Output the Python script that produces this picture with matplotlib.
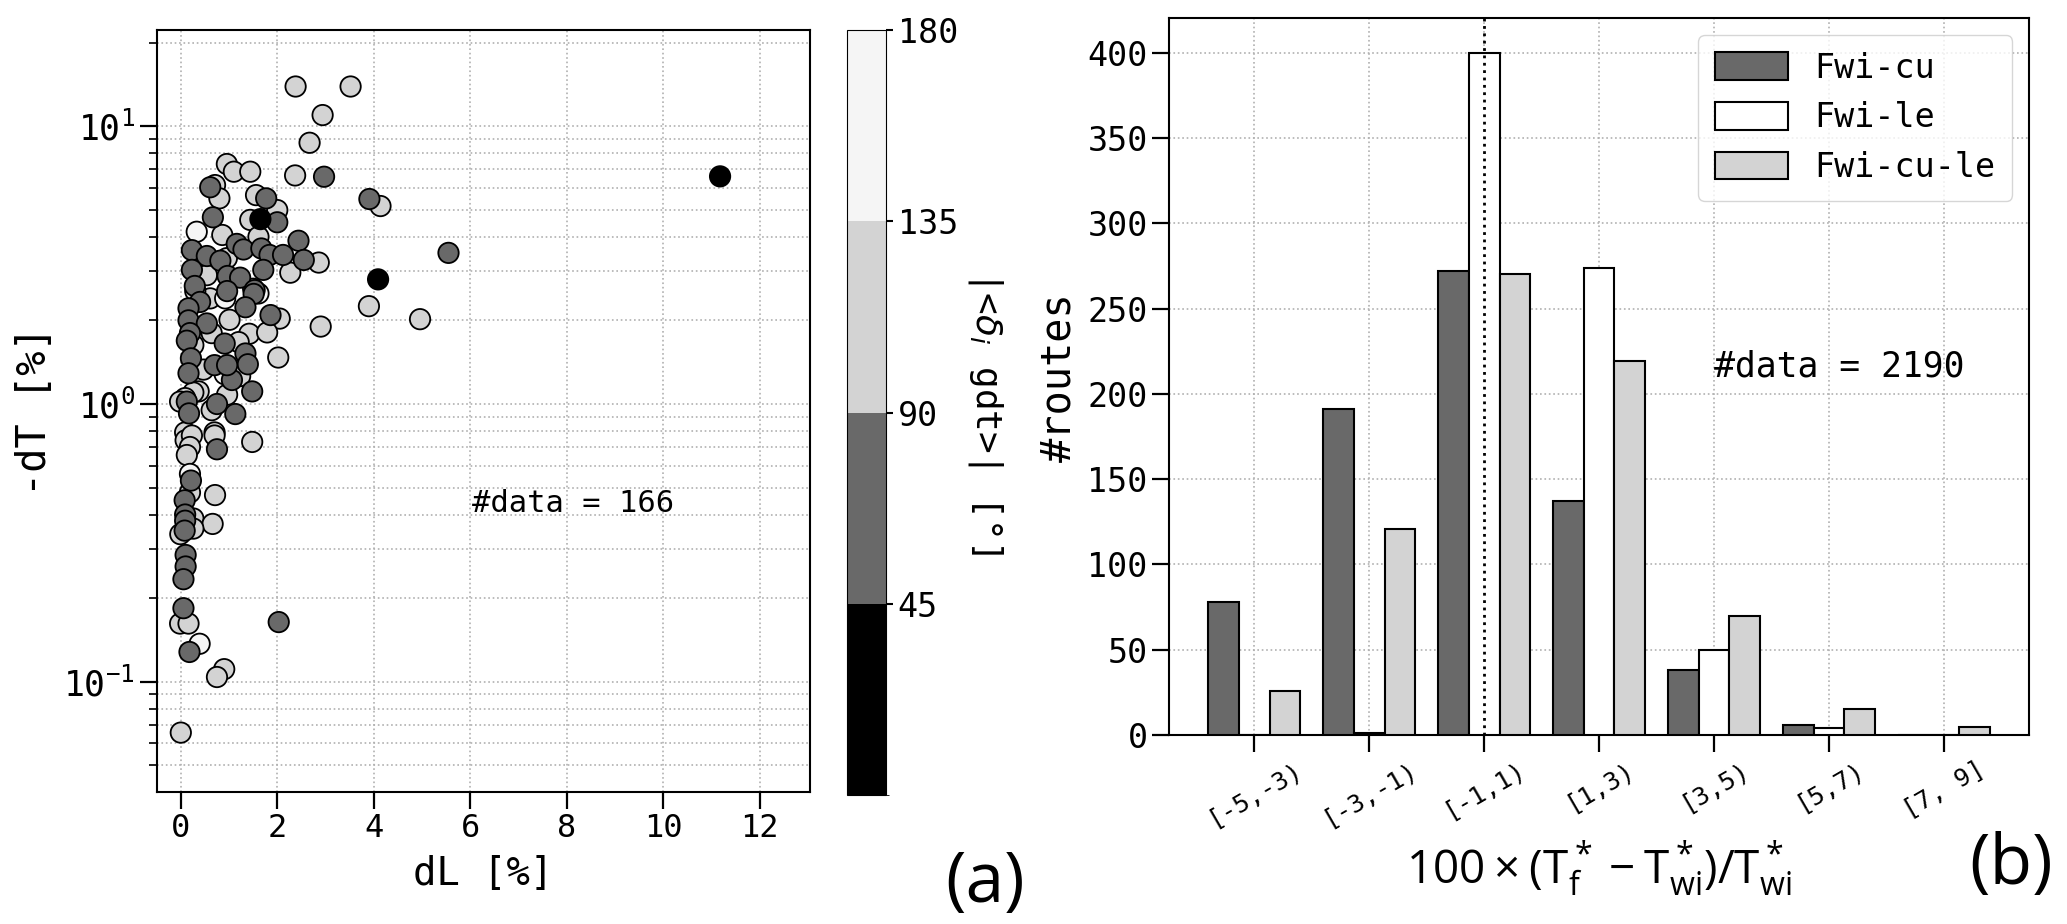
import numpy as np
import matplotlib
matplotlib.use("Agg")
import matplotlib.pyplot as plt
from matplotlib.colors import ListedColormap, BoundaryNorm

plt.rcParams['font.family'] = ['DejaVu Sans Mono', 'DejaVu Sans']
plt.rcParams['mathtext.fontset'] = 'dejavusans'

# ---------------- panel (a) data: dL [%], -dT [%], |<delta_i gdt>| [deg]
light_dL = [2.38, 3.52, 2.94, 2.67, 0.955, 1.10, 1.44, 2.37, 0.71, 0.80, 1.56, 2.0, 4.14,
            1.44, 0.86, 1.61, 2.86, 2.27, 0.54, 3.90, 2.05, 1.01, 2.9, 4.96, 0.61, 0.64,
            1.42, 1.79, 1.2, 0.26, 2.02, 0.47, 1.23, 0.96, 0.37, 0.26, 0.09, -0.015, 0.64,
            0.70, 0.09, 0.10, 0.23, 0.70, 1.48, 0.19, 0.125, 0.19, 0.71, 0.26, 0.66, -0.01,
            0.26, -0.014, 0.16, 0.90, 0.75, 0.0, 0.955, 0.30, 1.5]
light_dT = [13.9, 13.9, 10.97, 8.72, 7.31, 6.86, 6.86, 6.65, 6.14, 5.5, 5.65, 4.99, 5.16,
            4.6, 4.06, 4.0, 3.23, 2.97, 2.91, 2.25, 2.03, 2.01, 1.90, 2.02, 2.40, 1.80,
            1.79, 1.81, 1.67, 1.63, 1.47, 1.33, 1.26, 1.08, 1.11, 1.10, 1.05, 1.02, 0.95,
            0.79, 0.79, 0.74, 0.77, 0.77, 0.73, 0.70, 0.655, 0.48, 0.47, 0.387, 0.37, 0.34,
            0.356, 0.162, 0.162, 0.111, 0.104, 0.0656, 3.35, 2.55, 2.6]
white_dL = [0.33, 0.92, 1.61, 0.91, 0.39, 0.19]
white_dT = [4.17, 2.40, 2.50, 1.28, 0.137, 0.56]
dark_dL = [2.97, 0.61, 1.77, 3.91, 0.665, 2.0, 2.44, 0.23, 1.16, 1.30, 1.67, 0.54, 0.82,
           1.84, 2.12, 2.55, 0.23, 0.97, 1.23, 1.71, 0.29, 0.96, 1.53, 1.51, 0.40, 0.16,
           1.34, 1.86, 0.16, 0.54, 0.19, 0.125, 0.91, 1.34, 0.21, 0.70, 1.39, 0.16, 1.06,
           1.48, 0.125, 0.75, 1.13, 0.17, 0.75, 0.21, 0.08, 0.09, 0.09, 0.08, 0.10, 0.10,
           0.055, 0.055, 0.18, 2.03, 5.55, 0.96]
dark_dT = [6.58, 6.03, 5.5, 5.47, 4.70, 4.51, 3.87, 3.58, 3.77, 3.60, 3.63, 3.41, 3.28,
           3.44, 3.44, 3.30, 3.04, 2.89, 2.85, 3.04, 2.66, 2.55, 2.57, 2.49, 2.33, 2.21,
           2.23, 2.09, 2.0, 1.95, 1.80, 1.69, 1.65, 1.52, 1.46, 1.38, 1.39, 1.29, 1.22,
           1.11, 1.02, 1.0, 0.92, 0.925, 0.687, 0.53, 0.45, 0.40, 0.38, 0.35, 0.286, 0.26,
           0.234, 0.184, 0.128, 0.164, 3.50, 1.38]
black_dL = [1.65, 4.09, 11.18]
black_dT = [4.63, 2.81, 6.6]

light_ang, white_ang, dark_ang, black_ang = 115, 160, 70, 30
cbar_bounds = [0, 45, 90, 135, 180]
cbar_ticks = [45, 90, 135, 180]
cbar_colors = ['black', '#696969', '#d3d3d3', '#f5f5f5']

# ---------------- panel (b) data
bins = ['[-5,-3)', '[-3,-1)', '[-1,1)', '[1,3)', '[3,5)', '[5,7)', '[7, 9]']
fwi_cu = [78, 191, 272, 137, 38, 6, 0]
fwi_le = [0, 1, 400, 274, 50, 4, 0]
fwi_cu_le = [26, 121, 270, 219, 70, 15, 5]
series_names = ['Fwi-cu', 'Fwi-le', 'Fwi-cu-le']
series_colors = ['#696969', 'white', '#d3d3d3']

fig = plt.figure(figsize=(20.67, 9.24), dpi=100)

# ---------------- panel (a)
ax1 = fig.add_axes([0.0758, 0.1432, 0.3162, 0.8243])
cmap = ListedColormap(cbar_colors)
norm = BoundaryNorm(cbar_bounds, cmap.N)
xs = light_dL + white_dL + dark_dL + black_dL
ys = light_dT + white_dT + dark_dT + black_dT
cs = ([light_ang] * len(light_dL) + [white_ang] * len(white_dL)
      + [dark_ang] * len(dark_dL) + [black_ang] * len(black_dL))
sc = ax1.scatter(xs, ys, c=cs, cmap=cmap, norm=norm, s=215, edgecolors='black',
                 linewidths=1.3, zorder=3)
ax1.set_yscale('log')
ax1.set_xlim(-0.5, 13.05)
ax1.set_ylim(0.0402, 22.2)
ax1.set_xticks(range(0, 13, 2))
ax1.grid(True, which='both', linestyle=':', color='#b0b0b0', linewidth=1.2)
ax1.set_xlabel('dL [%]', fontsize=28, labelpad=8)
ax1.set_ylabel('-dT [%]', fontsize=29, labelpad=6)
ax1.tick_params(axis='x', which='major', labelsize=23, length=12, width=1.6)
ax1.tick_params(axis='y', which='major', labelsize=25, length=12, width=1.6)
ax1.tick_params(axis='both', which='minor', length=6, width=1.2)
for s in ax1.spines.values():
    s.set_linewidth(1.5)
ax1.text(6.03, 0.44, '#data = 166', fontsize=22, ha='left', va='center')

cax = fig.add_axes([0.4099, 0.1395, 0.0187, 0.828])
cb = fig.colorbar(sc, cax=cax, ticks=cbar_ticks)
cb.ax.tick_params(labelsize=24, length=5, width=1.5)
cb.outline.set_linewidth(0.8)
cb.set_label(r'|<$\delta_i$ gdt>| [°]', rotation=270, fontsize=26, labelpad=34)

fig.text(0.4766, 0.043, '(a)', fontsize=50, family='Open Sans', ha='center', va='center')

# ---------------- panel (b)
ax2 = fig.add_axes([0.5657, 0.2045, 0.4159, 0.7755])
x = np.arange(len(bins))
w = 0.8 / 3
for i, (vals, name, col) in enumerate(zip([fwi_cu, fwi_le, fwi_cu_le], series_names, series_colors)):
    ax2.bar(x + (i - 1) * w, vals, width=w, color=col, edgecolor='black', linewidth=1.5,
            label=name, zorder=3)
ax2.axvline(2, color='black', linestyle=':', linewidth=2, zorder=4)
ax2.set_xticks(x)
ax2.set_xticklabels(bins, rotation=30, ha='center')
ax2.grid(True, linestyle=':', color='#b0b0b0', linewidth=1.2)
ax2.set_axisbelow(True)
ax2.set_ylabel('#routes', fontsize=29, labelpad=6)
ax2.set_xlabel(r'$\mathdefault{100\times(T^*_f-T^*_{wi})/T^*_{wi}}$', fontsize=33,
               family='Open Sans', labelpad=6)
ax2.tick_params(axis='y', labelsize=24, length=12, width=1.6)
ax2.tick_params(axis='x', labelsize=18, length=12, width=1.6)
for s in ax2.spines.values():
    s.set_linewidth(1.5)
ax2.text(4.0, 216, '#data = 2190', fontsize=25, ha='left', va='center')
ax2.legend(loc='upper right', fontsize=24, handlelength=2.2, handleheight=0.9,
           borderpad=0.5, labelspacing=0.5)

fig.text(0.973, 0.063, '(b)', fontsize=50, family='Open Sans', ha='center', va='center')

fig.savefig('out.png', dpi=100)
